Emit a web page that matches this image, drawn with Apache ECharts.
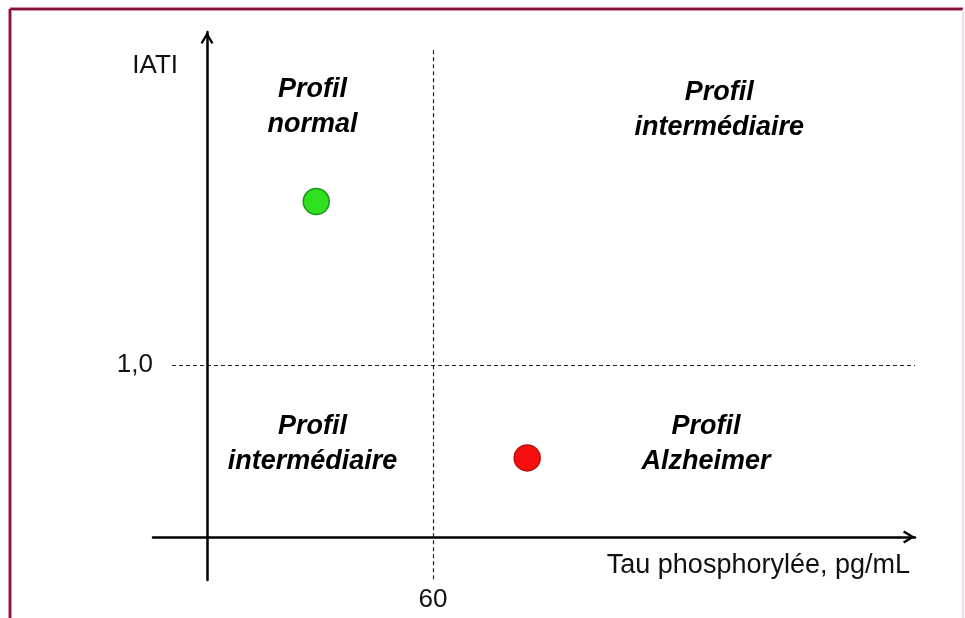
<!DOCTYPE html>
<html>
<head>
<meta charset="utf-8">
<script src="https://cdn.jsdelivr.net/npm/echarts@6/dist/echarts.min.js"></script>
<style>
  html, body { margin: 0; padding: 0; background: #fff; }
  #chart { width: 965px; height: 618px; }
</style>
</head>
<body>
<div id="chart"></div>
<script>
// seuils de décision
const seuilTau = [60];
const seuilIati = [1.0];

// deux patients (tau phosphorylée, IATI)
const patientTau = [29, 85];
const patientIati = [1.95, 0.46];

// noms des quatre zones
const zoneNames = ['Profil\nnormal', 'Profil\nintermédiaire', 'Profil\nintermédiaire', 'Profil\nAlzheimer'];

// centre de chaque zone (mise en page)
const zoneAnchor = [[28, 2.5], [136, 2.48], [28, 0.54], [132.5, 0.54]];

const font = "'Liberation Sans', Arial, sans-serif";
const chevron = 'path://M6,0 L12,10 L10.2,11.2 L6,4.2 L1.8,11.2 L0,10 Z';

const chart = echarts.init(document.getElementById('chart'));

const option = {
  backgroundColor: '#fff',
  animation: false,
  grid: { left: 153, right: 50, top: 32, bottom: 38, outerBoundsMode: 'none' },
  xAxis: {
    type: 'value',
    min: -14.34, max: 187.96,
    name: 'Tau phosphorylée, pg/mL',
    nameLocation: 'end',
    nameGap: -5,
    nameTextStyle: { fontFamily: font, fontSize: 27, color: '#111', align: 'right', verticalAlign: 'top', padding: [15, 0, 0, 0] },
    axisLine: {
      onZero: true,
      symbol: ['none', chevron], symbolSize: [13, 12], symbolOffset: [0, -6],
      lineStyle: { color: '#000', width: 2.5 }
    },
    axisTick: { show: false },
    splitLine: { show: false },
    axisLabel: {
      customValues: seuilTau,
      margin: 7,
      fontFamily: font, fontSize: 26, color: '#111',
      formatter: v => String(v)
    }
  },
  yAxis: {
    type: 'value',
    min: -0.25, max: 2.936,
    name: 'IATI',
    nameLocation: 'end',
    nameGap: -34,
    nameTextStyle: { fontFamily: font, fontSize: 26, color: '#111', align: 'right', verticalAlign: 'middle', padding: [0, 29, 0, 0] },
    axisLine: {
      onZero: true,
      symbol: ['none', chevron], symbolSize: [13, 12], symbolOffset: [0, -6],
      lineStyle: { color: '#000', width: 2.5 }
    },
    axisTick: { show: false },
    splitLine: { show: false },
    axisLabel: {
      customValues: seuilIati,
      margin: 0,
      fontFamily: font, fontSize: 26, color: '#111',
      padding: [0, 0, 6, 0],
      formatter: v => v.toFixed(1).replace('.', ',')
    }
  },
  series: [
    {
      type: 'scatter',
      name: 'patients',
      symbolSize: 26,
      silent: true,
      data: patientTau.map((t, i) => ({
        value: [t, patientIati[i]],
        itemStyle: i === 0
          ? { color: '#2fe01f', borderColor: '#1c9a1c', borderWidth: 1.5, opacity: 1 }
          : { color: '#f70f0f', borderColor: '#c00d0d', borderWidth: 1.5, opacity: 1 }
      })),
      markLine: {
        silent: true,
        symbol: 'none',
        label: { show: false },
        lineStyle: { color: '#222', width: 1.2, type: [4, 3] },
        data: [
          [{ coord: [seuilTau[0], 2.83] }, { coord: [seuilTau[0], -0.25] }],
          [{ coord: [-9.3, seuilIati[0]] }, { coord: [187.96, seuilIati[0]] }]
        ]
      }
    },
    {
      type: 'scatter',
      name: 'zones',
      symbolSize: 1,
      silent: true,
      itemStyle: { color: 'rgba(0,0,0,0)', opacity: 1 },
      label: {
        show: true,
        position: 'inside',
        formatter: '{b}',
        fontFamily: font,
        fontSize: 27,
        fontStyle: 'italic',
        fontWeight: 'bold',
        lineHeight: 35,
        align: 'center',
        color: '#000',
        opacity: 1
      },
      data: zoneAnchor.map((p, i) => ({ value: p, name: zoneNames[i] }))
    }
  ],
  graphic: [
    { type: 'line', shape: { x1: 10, y1: 9, x2: 963, y2: 9 }, style: { stroke: '#e58aa8', lineWidth: 4 } },
    { type: 'line', shape: { x1: 10, y1: 9, x2: 10, y2: 618 }, style: { stroke: '#e58aa8', lineWidth: 4 } },
    { type: 'line', shape: { x1: 10, y1: 9, x2: 963, y2: 9 }, style: { stroke: '#7e1638', lineWidth: 2 } },
    { type: 'line', shape: { x1: 10, y1: 9, x2: 10, y2: 618 }, style: { stroke: '#7e1638', lineWidth: 2 } },
    { type: 'line', shape: { x1: 963, y1: 9, x2: 963, y2: 618 }, style: { stroke: '#f2cddb', lineWidth: 1.5 } }
  ]
};

chart.setOption(option);
</script>
</body>
</html>
